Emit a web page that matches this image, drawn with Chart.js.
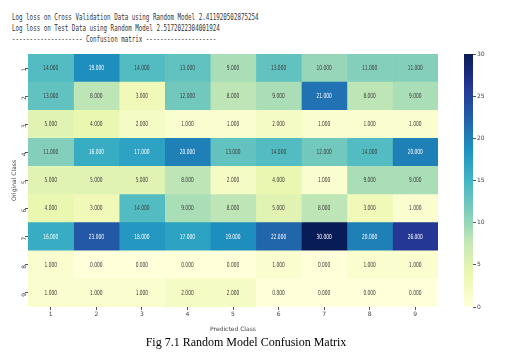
<!DOCTYPE html>
<html><head><meta charset="utf-8">
<script src="https://cdn.jsdelivr.net/npm/chart.js@4/dist/chart.umd.min.js"></script>
<style>
html,body{margin:0;padding:0;background:#fff;width:516px;height:360px;overflow:hidden;}
#wrap{position:relative;width:516px;height:360px;}
.hdr{position:absolute;left:12px;font-family:"DejaVu Sans Mono",monospace;font-size:9px;line-height:11px;color:#333;white-space:pre;transform-origin:0 0;transform:scaleX(0.65);}
#cap{position:absolute;top:335px;left:0;width:492px;text-align:center;font-family:"Liberation Serif","Times New Roman",serif;font-size:12px;color:#000;}
canvas{position:absolute;top:0;}
#main{left:0;}
#cbar{left:440px;}
</style></head>
<body><div id="wrap">
<div class="hdr" style="top:12px">Log loss on Cross Validation Data using Random Model 2.411920502875254</div>
<div class="hdr" style="top:23px">Log loss on Test Data using Random Model 2.5172022304001924</div>
<div class="hdr" style="top:34px">-------------------- Confusion matrix --------------------</div>
<canvas id="main" width="516" height="360"></canvas>
<canvas id="cbar" width="76" height="360"></canvas>
<div id="cap">Fig 7.1 Random Model Confusion Matrix</div>
</div>
<script>
const originalClasses = ['1','2','3','4','5','6','7','8','9'];
const predictedClasses = ['1','2','3','4','5','6','7','8','9'];
const row1 = [14,19,14,13,9,13,10,11,11];
const row2 = [13,8,3,12,8,9,21,8,9];
const row3 = [5,4,2,1,1,2,1,1,1];
const row4 = [11,16,17,20,13,14,12,14,20];
const row5 = [5,5,5,8,2,4,1,9,9];
const row6 = [4,3,14,9,8,5,8,3,1];
const row7 = [16,23,18,17,19,22,30,20,26];
const row8 = [1,0,0,0,0,1,0,1,1];
const row9 = [1,1,1,2,2,0,0,0,0];
const matrix = [row1,row2,row3,row4,row5,row6,row7,row8,row9];
const colorbarTicks = [0,5,10,15,20,25,30];
const vmin = 0, vmax = 30;

const stops = ['#ffffd9','#edf8b1','#c7e9b4','#7fcdbb','#41b6c4','#1d91c0','#225ea8','#253494','#081d58'];
function hex2rgb(h){return [parseInt(h.slice(1,3),16),parseInt(h.slice(3,5),16),parseInt(h.slice(5,7),16)];}
const stopRgb = stops.map(hex2rgb);
function cmapRgb(t){
  t = Math.max(0, Math.min(1, t));
  const p = t*(stops.length-1);
  const i = Math.min(Math.floor(p), stops.length-2);
  const f = p - i;
  const a = stopRgb[i], b = stopRgb[i+1];
  return a.map((v,k)=>Math.round(v+(b[k]-v)*f));
}
function cmap(t){const c=cmapRgb(t);return `rgb(${c[0]},${c[1]},${c[2]})`;}
function lum(c){
  const l = c.map(v=>{v/=255;return v<=0.03928?v/12.92:Math.pow((v+0.055)/1.055,2.4);});
  return 0.2126*l[0]+0.7152*l[1]+0.0722*l[2];
}

const datasets = predictedClasses.map((pc, j) => ({
  label: pc,
  data: originalClasses.map(() => [j, j+1]),
  backgroundColor: originalClasses.map((oc, r) => cmap((matrix[r][j]-vmin)/(vmax-vmin))),
  borderWidth: 0,
  grouped: false,
  barPercentage: 1,
  categoryPercentage: 1
}));

const cellText = {
  id: 'cellText',
  afterDatasetsDraw(chart){
    const ctx = chart.ctx;
    chart.data.datasets.forEach((ds, j) => {
      const meta = chart.getDatasetMeta(j);
      meta.data.forEach((el, r) => {
        const v = matrix[r][j];
        const cx = (el.x + el.base)/2, cy = el.y;
        const c = cmapRgb((v-vmin)/(vmax-vmin));
        ctx.save();
        ctx.translate(cx, cy);
        ctx.scale(0.62, 1);
        ctx.font = '7px "DejaVu Sans"';
        ctx.textAlign = 'center';
        ctx.textBaseline = 'middle';
        ctx.fillStyle = lum(c) > 0.408 ? '#3a3a3a' : '#ffffff';
        ctx.fillText(v.toFixed(3), 0, 0);
        ctx.restore();
      });
    });
  }
};

new Chart(document.getElementById('main'), {
  type: 'bar',
  data: { labels: originalClasses, datasets },
  options: {
    indexAxis: 'y',
    responsive: false,
    animation: false,
    layout: { padding: { left: 11, top: 54, right: 78, bottom: 26 } },
    plugins: { legend: { display: false }, tooltip: { enabled: false } },
    scales: {
      y: {
        type: 'category',
        offset: true,
        grid: { display: true, offset: false, drawOnChartArea: false, drawTicks: true, tickLength: 3, color: '#555' },
        border: { display: false },
        ticks: { minRotation: 90, maxRotation: 90, font: { size: 6, family: 'DejaVu Sans' }, color: '#444', padding: 1 },
        title: { display: true, text: 'Original Class', font: { size: 6, family: 'DejaVu Sans' }, color: '#444', padding: 0 },
        afterFit(s){ s.width = 17; }
      },
      x: {
        type: 'linear',
        min: 0, max: predictedClasses.length,
        afterBuildTicks(s){ s.ticks = predictedClasses.map((c,i)=>({value: i+0.5})); },
        grid: { display: true, drawOnChartArea: false, drawTicks: true, tickLength: 3, color: '#555' },
        border: { display: false },
        ticks: { font: { size: 6, family: 'DejaVu Sans' }, color: '#444', padding: 1, maxRotation: 0,
          callback(v){ return predictedClasses[Math.floor(v)]; } },
        title: { display: true, text: 'Predicted Class', font: { size: 6, family: 'DejaVu Sans' }, color: '#444', padding: 1 },
        afterFit(s){ s.height = 27; }
      }
    }
  },
  plugins: [cellText]
});

new Chart(document.getElementById('cbar'), {
  type: 'bar',
  data: { labels: [''], datasets: [{
    data: [[vmin, vmax]],
    borderWidth: 0,
    barPercentage: 1,
    categoryPercentage: 1,
    backgroundColor(ctx){
      const ch = ctx.chart, ca = ch.chartArea;
      if (!ca) return '#ffffd9';
      const g = ch.ctx.createLinearGradient(0, ca.bottom, 0, ca.top);
      stops.forEach((s,i)=>g.addColorStop(i/(stops.length-1), s));
      return g;
    }
  }]},
  options: {
    responsive: false,
    animation: false,
    layout: { padding: { left: 24, top: 54, right: 0, bottom: 53 } },
    plugins: { legend: { display: false }, tooltip: { enabled: false } },
    scales: {
      x: { display: false },
      y: {
        position: 'right',
        min: vmin, max: vmax,
        afterBuildTicks(s){ s.ticks = colorbarTicks.map(v=>({value:v})); },
        grid: { display: true, drawOnChartArea: false, drawTicks: true, tickLength: 3, color: '#555' },
        border: { display: false },
        ticks: { font: { size: 6, family: 'DejaVu Sans' }, color: '#444', padding: 1 },
        afterFit(s){ s.width = 43; }
      }
    }
  }
});
</script>
</body></html>
